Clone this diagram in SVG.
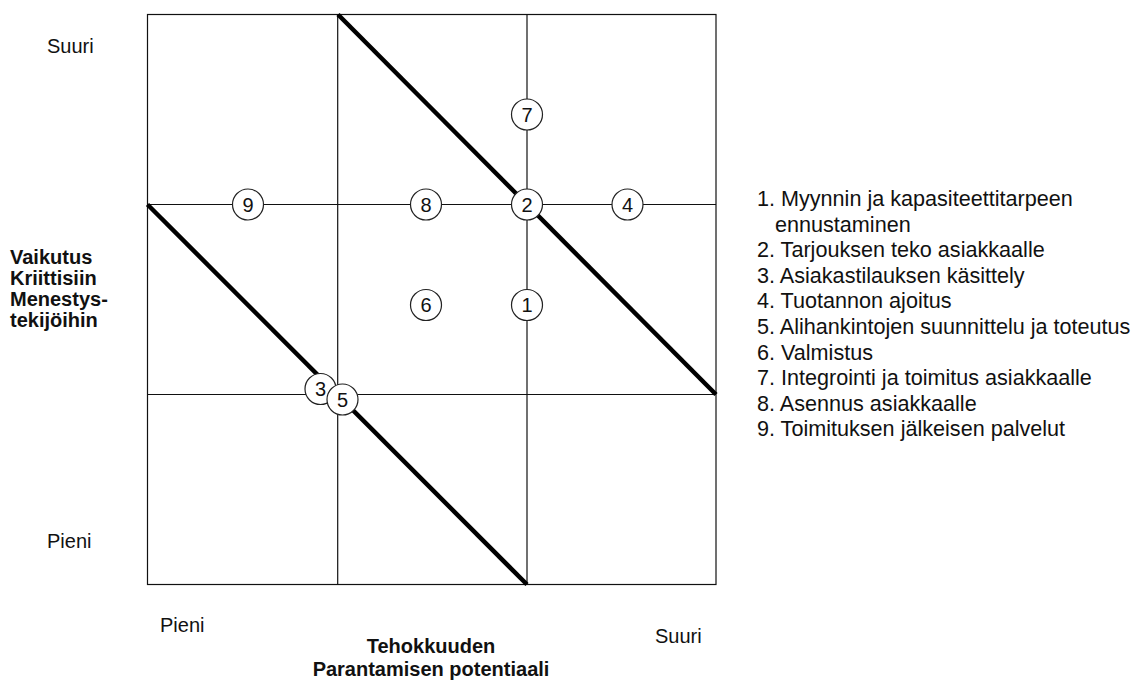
<svg xmlns="http://www.w3.org/2000/svg" width="1137" height="684" viewBox="0 0 1137 684">
  <style>
    text { font-family: "Liberation Sans", Arial, sans-serif; fill: #111; }
    .lbl { font-size: 20px; }
    .bold { font-size: 20px; font-weight: bold; }
    .legend { font-size: 21.6px; }
    .grid { stroke: #111; stroke-width: 1.2; fill: none; }
    .diag { stroke: #000; stroke-width: 4.5; fill: none; }
    .node circle { fill: #fff; stroke: #222; stroke-width: 1.2; }
    .node text { font-size: 20px; text-anchor: middle; }
  </style>
  <rect width="1137" height="684" fill="#fff"/>

  <!-- 3x3 matrix -->
  <g id="connectors">
    <rect class="grid" x="147.5" y="14.5" width="568.5" height="570"/>
    <line class="grid" x1="337.7" y1="14.5" x2="337.7" y2="584.5"/>
    <line class="grid" x1="527" y1="14.5" x2="527" y2="584.5"/>
    <line class="grid" x1="147.5" y1="204.5" x2="716" y2="204.5"/>
    <line class="grid" x1="147.5" y1="394.5" x2="716" y2="394.5"/>
    <line class="diag" x1="338" y1="14.5" x2="716" y2="394.5"/>
    <line class="diag" x1="147.5" y1="204.5" x2="527" y2="584.5"/>
  </g>

  <!-- numbered process circles -->
  <g id="n9" class="node"><circle cx="248" cy="204.5" r="15.5"/><text x="248" y="211.5">9</text></g>
  <g id="n8" class="node"><circle cx="426" cy="204.5" r="15.5"/><text x="426" y="211.5">8</text></g>
  <g id="n2" class="node"><circle cx="527" cy="204.5" r="15.5"/><text x="527" y="211.5">2</text></g>
  <g id="n4" class="node"><circle cx="627.5" cy="204.5" r="15.5"/><text x="627.5" y="211.5">4</text></g>
  <g id="n7" class="node"><circle cx="527" cy="114.5" r="15.5"/><text x="527" y="121.5">7</text></g>
  <g id="n6" class="node"><circle cx="426" cy="305" r="15.5"/><text x="426" y="312">6</text></g>
  <g id="n1" class="node"><circle cx="527" cy="305" r="15.5"/><text x="527" y="312">1</text></g>
  <g id="n3" class="node"><circle cx="320.5" cy="389" r="15.5"/><text x="320.5" y="396">3</text></g>
  <g id="n5" class="node"><circle cx="342.5" cy="399.5" r="15.5"/><text x="342.5" y="406.5">5</text></g>

  <!-- axis labels -->
  <g id="y-axis">
    <text class="lbl" x="47" y="53">Suuri</text>
    <text class="lbl" x="47" y="548">Pieni</text>
    <text class="bold" x="10" y="264">Vaikutus</text>
    <text class="bold" x="10" y="285">Kriittisiin</text>
    <text class="bold" x="10" y="306">Menestys-</text>
    <text class="bold" x="10" y="327">tekijöihin</text>
  </g>
  <g id="x-axis">
    <text class="lbl" x="160" y="632">Pieni</text>
    <text class="lbl" x="655" y="643">Suuri</text>
    <text class="bold" x="431" y="653" text-anchor="middle">Tehokkuuden</text>
    <text class="bold" x="431" y="676" text-anchor="middle">Parantamisen potentiaali</text>
  </g>

  <!-- legend -->
  <g id="legend">
    <text class="legend" x="757" y="206">1. Myynnin ja kapasiteettitarpeen</text>
    <text class="legend" x="775" y="231.6">ennustaminen</text>
    <text class="legend" x="757" y="257.2">2. Tarjouksen teko asiakkaalle</text>
    <text class="legend" x="757" y="282.8">3. Asiakastilauksen käsittely</text>
    <text class="legend" x="757" y="308.4">4. Tuotannon ajoitus</text>
    <text class="legend" x="757" y="334">5. Alihankintojen suunnittelu ja toteutus</text>
    <text class="legend" x="757" y="359.6">6. Valmistus</text>
    <text class="legend" x="757" y="385.2">7. Integrointi ja toimitus asiakkaalle</text>
    <text class="legend" x="757" y="410.8">8. Asennus asiakkaalle</text>
    <text class="legend" x="757" y="436.4">9. Toimituksen jälkeisen palvelut</text>
  </g>
</svg>
